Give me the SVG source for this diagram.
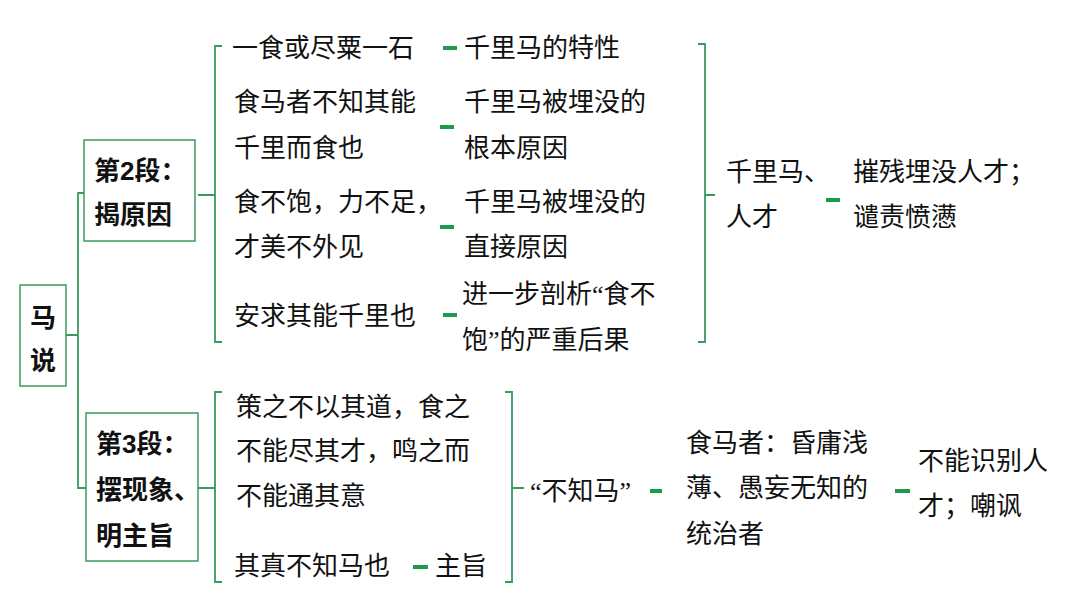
<svg xmlns="http://www.w3.org/2000/svg" width="1080" height="596" viewBox="0 0 1080 596">
<style>
text{font-family:"Liberation Serif","Noto Sans CJK SC",serif;font-size:26px;fill:#111}
.b{font-weight:bold;font-family:"Liberation Sans","Noto Sans CJK SC",sans-serif}
.box{fill:#fff;stroke:#3a9a5e;stroke-width:1.5}
.ln{fill:none;stroke:#3a9a5e;stroke-width:1.8}
.d{stroke:#1e9a4e;stroke-width:4}
</style>
<rect width="1080" height="596" fill="#fff"/>
<g id="connectors">
<path class="ln" d="M66 335H78M84 193H78V488H86"/>
<path class="ln" d="M222 46H215V342H222M198 195H215"/>
<path class="ln" d="M698 44H705V342H698M705 195H715"/>
<path class="ln" d="M222 392H215V582H222M198 488H215"/>
<path class="ln" d="M505 392H512V582H505M512 488H524"/>
<path class="d" d="M443 48H457M440 127H454M440 227H454M443 315H457M826 200H840M413 567H428M650 491H662M895 491H910"/>
</g>
<g id="n-root"><rect class="box" x="20" y="285" width="46" height="101"/><text class="b" x="43" y="327" text-anchor="middle">马</text><text class="b" x="43" y="370" text-anchor="middle">说</text></g>
<g id="n-p2"><rect class="box" x="84" y="140" width="111" height="101"/><text class="b" x="94" y="180">第2段：</text><text class="b" x="94" y="224">揭原因</text></g>
<g id="n-p3"><rect class="box" x="86" y="413" width="112" height="148"/><text class="b" x="96" y="453">第3段：</text><text class="b" x="96" y="499">摆现象、</text><text class="b" x="96" y="545">明主旨</text></g>
<g id="n-a1"><text x="232" y="57">一食或尽粟一石</text></g>
<g id="n-a2"><text x="234" y="111">食马者不知其能</text><text x="234" y="157">千里而食也</text></g>
<g id="n-a3"><text x="234" y="211">食不饱，力不足，</text><text x="234" y="256">才美不外见</text></g>
<g id="n-a4"><text x="234" y="325">安求其能千里也</text></g>
<g id="n-b1"><text x="464" y="57">千里马的特性</text></g>
<g id="n-b2"><text x="464" y="111">千里马被埋没的</text><text x="464" y="157">根本原因</text></g>
<g id="n-b3"><text x="464" y="211">千里马被埋没的</text><text x="464" y="256">直接原因</text></g>
<g id="n-b4"><text x="462" y="303">进一步剖析“食不</text><text x="462" y="349">饱”的严重后果</text></g>
<g id="n-c"><text x="726" y="181">千里马、</text><text x="726" y="226">人才</text></g>
<g id="n-d"><text x="853" y="181">摧残埋没人才；</text><text x="853" y="226">谴责愤懑</text></g>
<g id="n-e1"><text x="236" y="416">策之不以其道，食之</text><text x="236" y="460">不能尽其才，鸣之而</text><text x="236" y="505">不能通其意</text></g>
<g id="n-e2"><text x="234" y="575">其真不知马也</text></g>
<g id="n-e3"><text x="435" y="575">主旨</text></g>
<g id="n-f"><text x="530" y="500">“不知马”</text></g>
<g id="n-g"><text x="686" y="452">食马者：昏庸浅</text><text x="686" y="497">薄、愚妄无知的</text><text x="686" y="543">统治者</text></g>
<g id="n-h"><text x="918" y="470">不能识别人</text><text x="918" y="515">才；嘲讽</text></g>
</svg>
